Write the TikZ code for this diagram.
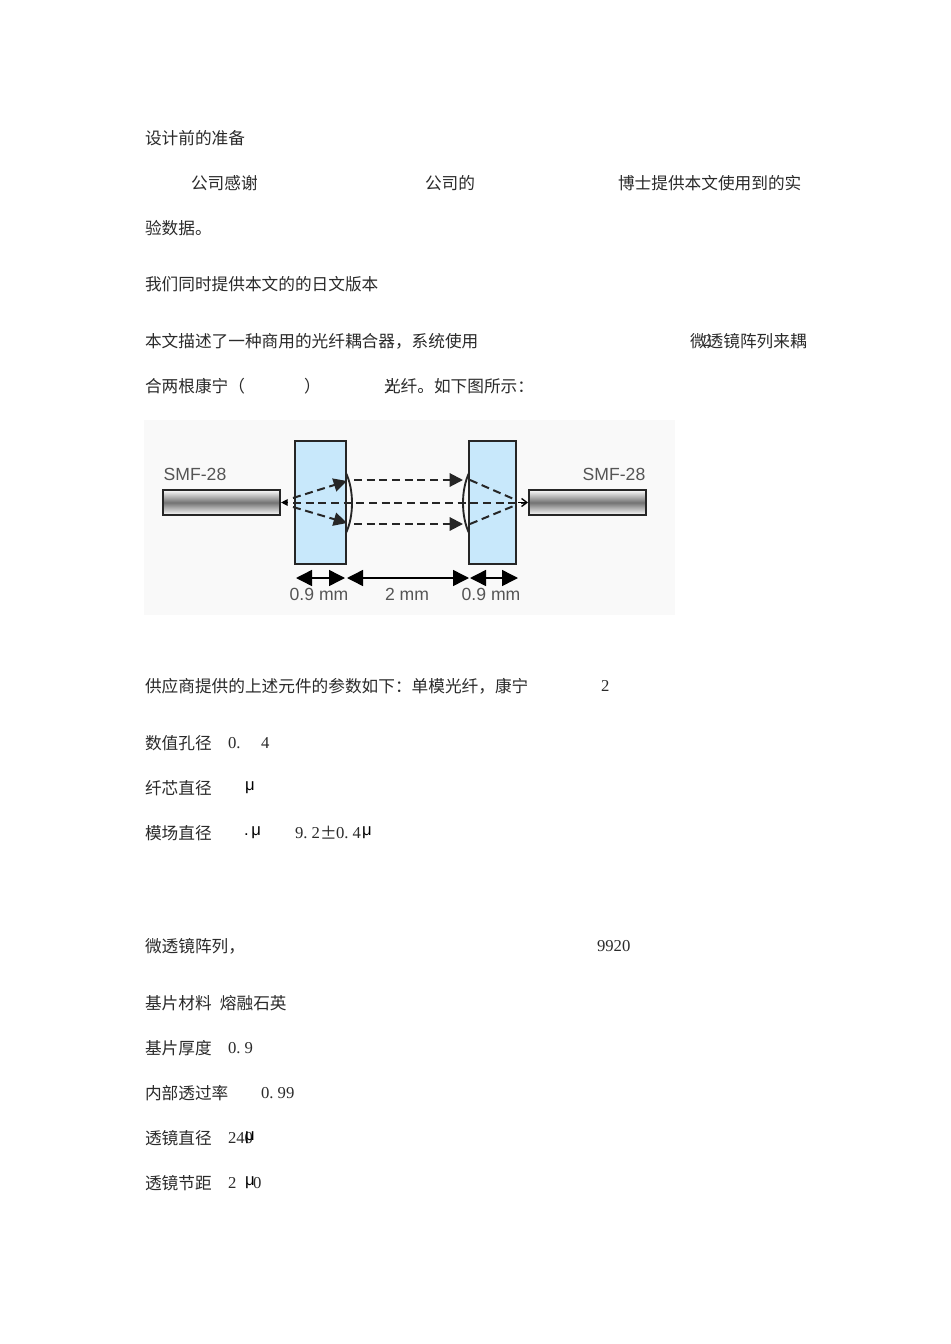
\documentclass[tikz,border=0pt]{standalone}
\usepackage{fontspec}
\setmainfont{Noto Sans CJK SC}
\newfontfamily\mn{Liberation Serif}
\newfontfamily\lat{Liberation Sans}
\usetikzlibrary{arrows.meta}
\definecolor{txt}{HTML}{2A2A2A}
\definecolor{glass}{HTML}{C8E8FB}
\definecolor{lbl}{HTML}{555555}
\definecolor{bgp}{HTML}{F9F9F9}
\newcommand{\um}{{\lat μ}}
\newcommand{\pd}{\makebox[0.5em][l]{.}}
\newcommand{\qcomma}{\char"FF0C\relax}
\newcommand{\qcolon}{\char"FF1A\relax}
\newcommand{\qlp}{\char"FF08\relax}
\newcommand{\qrp}{\char"FF09\relax}
\tikzset{
  x=0.75pt,y=-0.75pt,
  para/.style={anchor=west,inner sep=0pt,outer sep=0pt,text=txt,font=\fontsize{12.5}{12.5}\selectfont},
  num/.style={anchor=west,inner sep=0pt,outer sep=0pt,text=txt,font=\fontsize{12.5}{12.5}\mn},
  unit/.style={anchor=west,inner sep=0pt,outer sep=0pt,text=black,font=\fontsize{12.5}{12.5}\lat},
  lab/.style={inner sep=0pt,text=lbl,font=\fontsize{13.2}{13}\lat},
  fibre/.style={draw=black!85,line width=1.3pt,top color=white,bottom color=white,middle color=black!55,minimum width=88pt,minimum height=19pt,inner sep=0pt},
  block/.style={draw=black!85,line width=1.3pt,fill=glass,inner sep=0pt},
  ray/.style={draw=black!85,line width=1.5pt,dash pattern=on 6pt off 3.5pt},
  rayhead/.style={ray,-{Triangle[length=10pt,width=10pt]}},
  dim/.style={draw=black,line width=1.1pt,{Triangle[length=12pt,width=12pt]}-{Triangle[length=12pt,width=12pt]}},
  lens/.style={draw=black!85,line width=1.4pt},
}
\begin{document}
\begin{tikzpicture}
\useasboundingbox (0,0) rectangle (950,1344);
\fill[white] (0,0) rectangle (950,1344);
% text
\node[para] (t1) at (145,138) {设计前的准备};
\node[para] (t2a) at (191,183) {公司感谢};
\node[para] (t2b) at (425,183) {公司的};
\node[para] (t2c) at (618,183) {博士提供本文使用到的实};
\node[para] (t3) at (145,228) {验数据。};
\node[para] (t4) at (145,284) {我们同时提供本文的的日文版本};
\node[para] (t5a) at (145,341) {本文描述了一种商用的光纤耦合器\qcomma 系统使用};
\node[para] (t5b) at (690,341) {微透镜阵列来耦};
\node[num] (t5c) at (703,341) {2};
\node[para] (t6a) at (145,386) {合两根康宁\qlp};
\node[para] (t6b) at (304,386) {\qrp};
\node[para] (t6c) at (384,386) {光纤。如下图所示\qcolon};
\node[num] (t6d) at (386,386) {2};
\node[para] (t7) at (145,686) {供应商提供的上述元件的参数如下\qcolon 单模光纤\qcomma 康宁};
\node[num] (t7b) at (601,686) {2};
\node[para] (t8) at (145,743) {数值孔径};
\node[num] (t8b) at (228,743) {0\pd};
\node[num] (t8c) at (261,743) {4};
\node[para] (t9) at (145,788) {纤芯直径};
\node[unit] (t9b) at (245,788) {\um};
\node[para] (t10) at (145,833) {模场直径};
\node[unit] (t10b) at (244,833) {.\,\um};
\node[num] (t10c) at (295,833) {9\pd 2};
\node[para] (t10d) at (320,833) {±};
\node[num] (t10e) at (336,833) {0\pd 4};
\node[unit] (t10f) at (362,833) {\um};
\node[para] (t11) at (145,946) {微透镜阵列\qcomma};
\node[num] (t11b) at (597,946) {9920};
\node[para] (t12) at (145,1003) {基片材料\hspace{6.2pt}熔融石英};
\node[para] (t13) at (145,1048) {基片厚度};
\node[num] (t13b) at (228,1048) {0\pd 9};
\node[para] (t14) at (145,1093) {内部透过率};
\node[num] (t14b) at (261,1093) {0\pd 99};
\node[para] (t15) at (145,1138) {透镜直径};
\node[num] (t15b) at (228,1138) {240};
\node[unit] (t15c) at (245,1138) {\um};
\node[para] (t16) at (145,1183) {透镜节距};
\node[num] (t16b) at (228,1183) {2};
\node[unit] (t16c) at (245,1183) {\um};
\node[num] (t16d) at (253,1183) {0};
% figure
\fill[bgp] (144,420) rectangle (675,615);
\node[fibre,anchor=west] (f1) at (162,502.5) {};
\node[fibre,anchor=west] (f2) at (528,502.5) {};
\node[lab] (s1) at (195,474) {SMF-28};
\node[lab] (s2) at (614,474) {SMF-28};
\node[block,minimum width=38pt,minimum height=92pt] (b1) at (320.5,502.5) {};
\node[block,minimum width=35pt,minimum height=92pt] (b2) at (492.5,502.5) {};
\coordinate (l1t) at (346,473); \coordinate (l1b) at (346,533);
\coordinate (l2t) at (469,473); \coordinate (l2b) at (469,533);
\draw[lens] (l1t) .. controls (354,490) and (354,516) .. (l1b);
\draw[lens] (l2t) .. controls (461,490) and (461,516) .. (l2b);
\coordinate (c1) at (293,502.5); \coordinate (c2) at (526,502.5);
\coordinate (u0) at (293,498); \coordinate (d0) at (293,507);
\coordinate (u1) at (347,481); \coordinate (d1) at (347,523);
\coordinate (u2) at (354,480); \coordinate (d2) at (354,524);
\coordinate (u3) at (463,480); \coordinate (d3) at (463,524);
\coordinate (u4) at (470,480); \coordinate (d4) at (470,524);
\coordinate (u5) at (516,500); \coordinate (d5) at (516,505);
\coordinate (g1) at (288,502.5); \coordinate (g2) at (518,502.5);
\draw[rayhead] (u0) -- (u1);
\draw[rayhead] (d0) -- (d1);
\draw[rayhead] (u2) -- (u3);
\draw[rayhead] (d2) -- (d3);
\draw[ray] (c1) -- (c2);
\draw[ray] (u4) -- (u5);
\draw[ray] (d4) -- (d5);
\draw[line width=1pt,-{Triangle[length=5pt,width=5pt]}] (g1) -- (f1.east);
\draw[line width=1pt,-{Straight Barb[length=4pt,width=6pt]}] (g2) -- (f2.west);
\coordinate (a0) at (296,578); \coordinate (a1) at (345,578);
\coordinate (a2) at (347,578); \coordinate (a3) at (469,578);
\coordinate (a4) at (470,578); \coordinate (a5) at (518,578);
\draw[dim] (a0) -- (a1);
\draw[dim] (a2) -- (a3);
\draw[dim] (a4) -- (a5);
\node[lab] (d01) at (319,594) {0.9 mm};
\node[lab] (d02) at (407,594) {2 mm};
\node[lab] (d03) at (491,594) {0.9 mm};
\end{tikzpicture}
\end{document}
